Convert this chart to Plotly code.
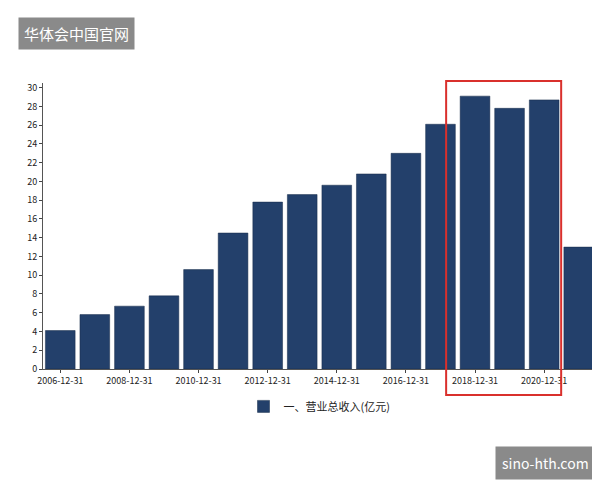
import plotly.graph_objects as go

years = [str(y) + "-12-31" for y in range(2006, 2022)]
revenue = [4.1, 5.8, 6.7, 7.8, 10.6, 14.5, 17.8, 18.6, 19.6, 20.8, 23.0, 26.1, 29.1, 27.8, 28.7, 13.0]
tick_labels = years[::2]
yticks = list(range(0, 31, 2))

fig = go.Figure(go.Bar(
    x=years, y=revenue, name="一、营业总收入(亿元)",
    marker=dict(color="#23406b", line=dict(color="#162a48", width=0.5)),
))
fig.update_layout(
    width=600, height=480, margin=dict(l=35, r=12, t=75, b=119, autoexpand=False),
    paper_bgcolor="white", plot_bgcolor="white", bargap=0.14,
    font=dict(family="Noto Sans CJK SC, Arial", size=9, color="#222"),
    showlegend=True,
    legend=dict(orientation="h", x=0.5, xanchor="center", y=-0.08, yanchor="top",
                font=dict(size=11)),
    xaxis=dict(tickmode="array", tickvals=tick_labels, ticktext=tick_labels, automargin=False,
               showline=True, linecolor="#555", ticks="outside", ticklen=3, tickangle=0),
    yaxis=dict(range=[0, 30.5], tickvals=yticks, showgrid=False, showline=True, automargin=False,
               linecolor="#555", ticks="outside", ticklen=3, zeroline=False),
    shapes=[dict(type="rect", xref="paper", yref="paper", x0=0.729, x1=0.937,
                 y0=-0.091, y1=1.007, line=dict(color="#d9302c", width=2))],
    annotations=[
        dict(text="华体会中国官网", xref="paper", yref="paper", x=-0.045, y=1.23,
             xanchor="left", yanchor="top", showarrow=False, bgcolor="#8a8a8a",
             font=dict(color="white", size=15), borderpad=5),
        dict(text="sino-hth.com", xref="paper", yref="paper", x=1.0, y=-0.27,
             xanchor="right", yanchor="top", showarrow=False, bgcolor="#8a8a8a",
             font=dict(color="white", size=14), borderpad=6),
    ],
)
fig.write_html("out.html")
